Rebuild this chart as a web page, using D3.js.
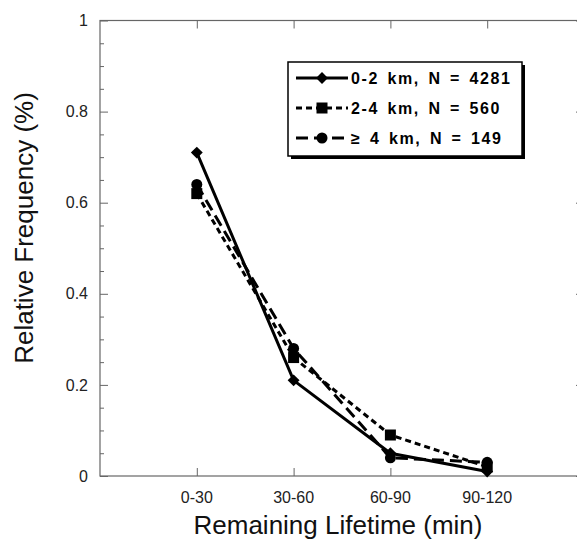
<!DOCTYPE html>
<html><head><meta charset="utf-8">
<script src="https://cdn.jsdelivr.net/npm/d3@7"></script>
<style>html,body{margin:0;background:#fff;overflow:hidden}svg{display:block;overflow:hidden}</style>
</head><body>
<svg id="c" width="577" height="544"></svg>
<script>
const categories = ["0-30", "30-60", "60-90", "90-120"];
const s02 = [0.71, 0.21, 0.05, 0.01];
const s24 = [0.62, 0.26, 0.09, 0.02];
const s4 = [0.64, 0.28, 0.04, 0.03];
const seriesNames = ["0-2 km, N = 4281", "2-4 km, N = 560", "\u2265 4 km, N = 149"];
const yTicks = [0, 0.2, 0.4, 0.6, 0.8, 1];
const yMinor = [0.05, 0.1, 0.15, 0.25, 0.3, 0.35, 0.45, 0.5, 0.55, 0.65, 0.7, 0.75, 0.85, 0.9, 0.95];

const series = [
  {name: seriesNames[0], values: s02, dash: null, marker: "diamond"},
  {name: seriesNames[1], values: s24, dash: "6,4", marker: "square"},
  {name: seriesNames[2], values: s4, dash: "12,6", marker: "circle"}
];

const svg = d3.select("#c");
const L = 100, R = 584, T = 20.5, B = 476;
const x = d3.scaleLinear().domain([0, 5]).range([L, R]);
const y = d3.scaleLinear().domain([0, 1]).range([B, T]);
const axisColor = "#666";
const font = "Liberation Sans, Arial, sans-serif";

// frame
svg.append("rect").attr("x", L).attr("y", T).attr("width", R - L).attr("height", B - T)
  .attr("fill", "none").attr("stroke", axisColor).attr("stroke-width", 1.2);

// y axis (inward ticks)
const yAx = svg.append("g").attr("transform", `translate(${L},0)`)
  .call(d3.axisRight(y).tickValues(yTicks).tickSize(8).tickFormat(""));
yAx.select(".domain").remove();
yAx.selectAll("line").attr("stroke", axisColor);
const yMin = svg.append("g").attr("transform", `translate(${L},0)`)
  .call(d3.axisRight(y).tickValues(yMinor).tickSize(4).tickFormat(""));
yMin.select(".domain").remove();
yMin.selectAll("line").attr("stroke", axisColor);
svg.append("g").selectAll("text").data(yTicks).join("text")
  .attr("x", L - 12).attr("y", d => y(d)).attr("dy", "0.35em")
  .attr("text-anchor", "end").attr("font-family", font)
  .attr("font-size", 16).attr("fill", "#222")
  .text(d => d === 0 || d === 1 ? d3.format("d")(d) : d3.format(".1f")(d));

// right axis
const yR = svg.append("g").attr("transform", `translate(${R},0)`)
  .call(d3.axisLeft(y).tickValues(yTicks).tickSize(8).tickFormat(""));
yR.select(".domain").remove();
yR.selectAll("line").attr("stroke", axisColor);

// x axis
const xPos = categories.map((c, i) => i + 1);
const xAx = svg.append("g").attr("transform", `translate(0,${B})`)
  .call(d3.axisTop(x).tickValues(xPos).tickSize(8).tickFormat(""));
xAx.select(".domain").remove();
xAx.selectAll("line").attr("stroke", axisColor);
const xTop = svg.append("g").attr("transform", `translate(0,${T})`)
  .call(d3.axisBottom(x).tickValues(xPos).tickSize(8).tickFormat(""));
xTop.select(".domain").remove();
xTop.selectAll("line").attr("stroke", axisColor);
svg.append("g").selectAll("text").data(categories).join("text")
  .attr("x", (d, i) => x(i + 1)).attr("y", 503)
  .attr("text-anchor", "middle").attr("font-family", font)
  .attr("font-size", 16).attr("fill", "#222").text(d => d);

// axis titles
svg.append("text").attr("x", 338).attr("y", 534).attr("text-anchor", "middle")
  .attr("font-family", font).attr("font-size", 26)
  .attr("fill", "#111").text("Remaining Lifetime (min)");
svg.append("text").attr("transform", "translate(33,228) rotate(-90)").attr("text-anchor", "middle")
  .attr("font-family", font).attr("font-size", 26)
  .attr("fill", "#111").text("Relative Frequency (%)");

function drawMarker(g, type, cx, cy) {
  if (type === "diamond") {
    g.append("path").attr("d", d3.symbol(d3.symbolDiamond2, 90)())
      .attr("transform", `translate(${cx},${cy})`).attr("fill", "#000");
  } else if (type === "square") {
    g.append("rect").attr("x", cx - 5.5).attr("y", cy - 5.5).attr("width", 11).attr("height", 11).attr("fill", "#000");
  } else {
    g.append("circle").attr("cx", cx).attr("cy", cy).attr("r", 5.5).attr("fill", "#000");
  }
}

const line = d3.line().x((d, i) => x(i + 1)).y(d => y(d));
const plot = svg.append("g");
series.slice().reverse().forEach(s => {
  plot.append("path").datum(s.values).attr("d", line).attr("fill", "none")
    .attr("stroke", "#000").attr("stroke-width", 3)
    .attr("stroke-dasharray", s.dash);
  s.values.forEach((v, i) => drawMarker(plot, s.marker, x(i + 1), y(v)));
});

// legend
const lg = svg.append("g");
const lx = 288, ly = 62, lw = 234, lh = 94;
lg.append("rect").attr("x", lx + 3).attr("y", ly + 3).attr("width", lw).attr("height", lh).attr("fill", "#000");
lg.append("rect").attr("x", lx).attr("y", ly).attr("width", lw).attr("height", lh)
  .attr("fill", "#fff").attr("stroke", "#000").attr("stroke-width", 1.5);
series.forEach((s, i) => {
  const yy = ly + 16 + i * 30;
  lg.append("line").attr("x1", lx + 8).attr("x2", lx + 60).attr("y1", yy).attr("y2", yy)
    .attr("stroke", "#000").attr("stroke-width", 3).attr("stroke-dasharray", s.dash);
  drawMarker(lg, s.marker, lx + 34, yy);
  lg.append("text").attr("x", lx + 63).attr("y", yy).attr("dy", "0.36em")
    .attr("font-family", font).attr("font-weight", "bold")
    .attr("font-size", 16).attr("letter-spacing", 1.6).attr("word-spacing", 2.5)
    .attr("fill", "#000").attr("xml:space", "preserve").text(s.name);
});
</script>
</body></html>
